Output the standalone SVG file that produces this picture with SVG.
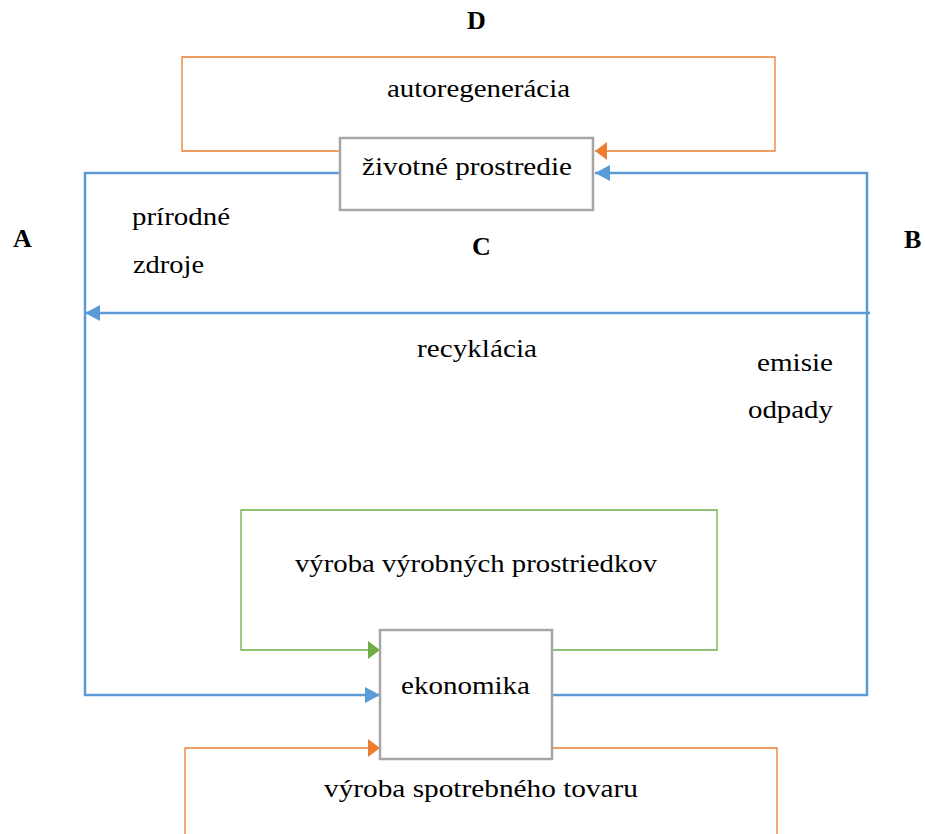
<svg xmlns="http://www.w3.org/2000/svg" width="925" height="834" viewBox="0 0 925 834">
<style>
.t{font-family:"Liberation Serif","Times New Roman",serif;font-size:26px;fill:#000}
.b{font-family:"Liberation Serif","Times New Roman",serif;font-size:26px;font-weight:bold;fill:#000}
.node{fill:#fff;stroke:#a6a6a6;stroke-width:2.5}
.blue{fill:none;stroke:#5b9bd5;stroke-width:2.5}
.orange{fill:none;stroke:#ed7d31;stroke-width:1.3}
.green{fill:none;stroke:#70ad47;stroke-width:1.3}
</style>
<defs>
<marker id="ab" viewBox="0 0 15 16" refX="15" refY="8" markerWidth="15" markerHeight="16" markerUnits="userSpaceOnUse" orient="auto"><path d="M0,0 L15,8 L0,16 z" fill="#5b9bd5"/></marker>
<marker id="ao" viewBox="0 0 12 18" refX="12" refY="9" markerWidth="12" markerHeight="18" markerUnits="userSpaceOnUse" orient="auto"><path d="M0,0 L12,9 L0,18 z" fill="#ed7d31"/></marker>
<marker id="ag" viewBox="0 0 12 18" refX="12" refY="9" markerWidth="12" markerHeight="18" markerUnits="userSpaceOnUse" orient="auto"><path d="M0,0 L12,9 L0,18 z" fill="#70ad47"/></marker>
</defs>
<rect width="925" height="834" fill="#fff"/>
<g id="connectors">
<path class="orange" d="M340,151 H182 V57 H775 V151 H595" marker-end="url(#ao)"/>
<path class="blue" d="M340,173 H85 V695 H380" marker-end="url(#ab)"/>
<path class="blue" d="M552,695 H867 V173 H595" marker-end="url(#ab)"/>
<path class="blue" d="M870,313 H85" marker-end="url(#ab)"/>
<path class="green" d="M552,650 H717 V510 H241 V650 H380" marker-end="url(#ag)"/>
<path class="orange" d="M552,748 H777 V845 H185 V748 H380" marker-end="url(#ao)"/>
</g>
<g id="zivotne-prostredie">
<rect class="node" x="340" y="138" width="253" height="72"/>
<text class="t" x="362" y="175" textLength="210" lengthAdjust="spacingAndGlyphs">životné prostredie</text>
</g>
<g id="ekonomika">
<rect class="node" x="380" y="630" width="172" height="129"/>
<text class="t" x="401" y="694" textLength="129" lengthAdjust="spacingAndGlyphs">ekonomika</text>
</g>
<g id="labels">
<text class="t" x="387" y="97" textLength="183" lengthAdjust="spacingAndGlyphs">autoregenerácia</text>
<text class="t" x="132" y="225" textLength="98" lengthAdjust="spacingAndGlyphs">prírodné</text>
<text class="t" x="133" y="273" textLength="71" lengthAdjust="spacingAndGlyphs">zdroje</text>
<text class="t" x="417" y="357" textLength="120" lengthAdjust="spacingAndGlyphs">recyklácia</text>
<text class="t" x="757" y="371" textLength="76" lengthAdjust="spacingAndGlyphs">emisie</text>
<text class="t" x="748" y="418" textLength="85" lengthAdjust="spacingAndGlyphs">odpady</text>
<text class="t" x="295" y="572" textLength="362" lengthAdjust="spacingAndGlyphs">výroba výrobných prostriedkov</text>
<text class="t" x="324" y="797" textLength="314" lengthAdjust="spacingAndGlyphs">výroba spotrebného tovaru</text>
<text class="b" x="13" y="247">A</text>
<text class="b" x="904" y="248">B</text>
<text class="b" x="472" y="255">C</text>
<text class="b" x="467" y="29">D</text>
</g>
</svg>
